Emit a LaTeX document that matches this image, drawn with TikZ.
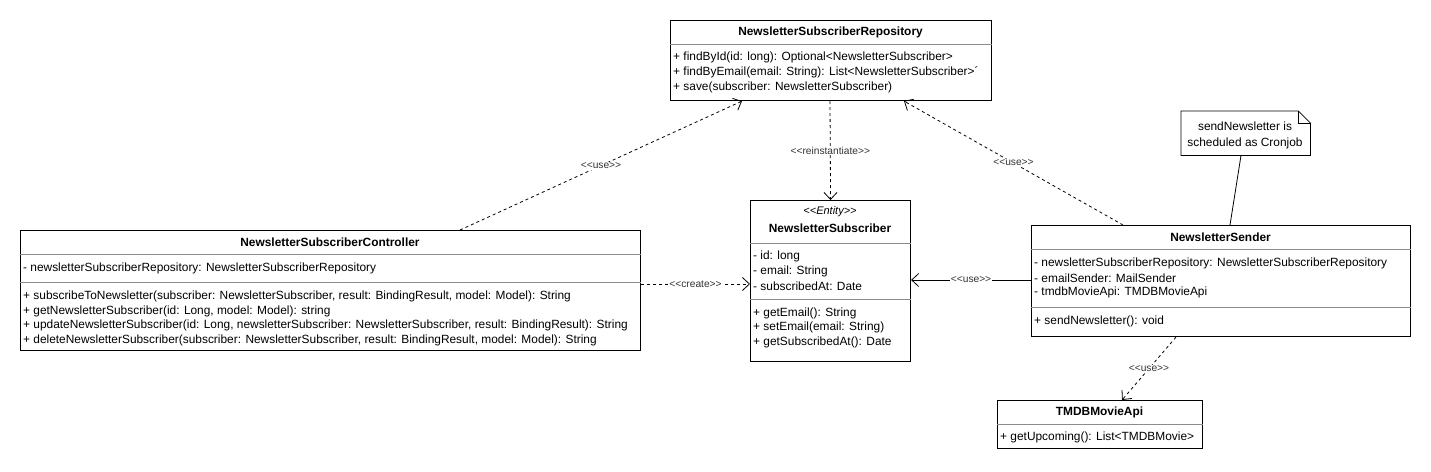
\documentclass[tikz,border=0pt]{standalone}
\usepackage{fontspec}
\setmainfont{Liberation Sans}
\usetikzlibrary{arrows.meta,calc}
\newcommand\stereo[1]{<\kern0pt<#1>\kern0pt>}
\begin{document}
\begin{tikzpicture}[x=1pt,y=-1pt,
  font=\fontsize{11.9}{13}\selectfont,
  cls/.style={draw, line width=1.1pt, inner sep=0pt, anchor=north west},
  div/.style={draw=black!45, line width=0.7pt},
  txt/.style={anchor=west, inner sep=0pt},
  ttl/.style={font=\fontsize{11.9}{13}\selectfont\bfseries, inner sep=0pt},
  dep/.style={dash pattern=on 3pt off 3pt, line width=0.8pt, -{Straight Barb[length=7pt,width=13pt]}},
  assoc/.style={line width=0.8pt, -{Straight Barb[length=7pt,width=13pt]}},
  lbl/.style={fill=white, font=\fontsize{10.2}{11}\selectfont, inner sep=1pt, text=black!80}]
\useasboundingbox (0,0) rectangle (1431,471);
\fill[white] (0,0) rectangle (1431,471);

% Repository
\node[cls, minimum width=321pt, minimum height=80pt] (repo) at (670,20) {};
\draw[div] ($(repo.north west)+(0,24)$) -- ($(repo.north east)+(0,24)$);
\node[ttl] (repoT) at (830.5,32) {NewsletterSubscriberRepository};
\node[txt] (repoM1) at (673,57) {+ findById(id: long): Optional<NewsletterSubscriber>};
\node[txt] (repoM2) at (673,72) {+ findByEmail(email: String): List<NewsletterSubscriber>´};
\node[txt] (repoM3) at (673,87) {+ save(subscriber: NewsletterSubscriber)};

% Controller
\node[cls, minimum width=620pt, minimum height=120pt] (ctrl) at (20,230) {};
\draw[div] ($(ctrl.north west)+(0,24)$) -- ($(ctrl.north east)+(0,24)$);
\draw[div] ($(ctrl.north west)+(0,52)$) -- ($(ctrl.north east)+(0,52)$);
\node[ttl] (ctrlT) at (330,242) {NewsletterSubscriberController};
\node[txt] (ctrlA1) at (23,268) {- newsletterSubscriberRepository: NewsletterSubscriberRepository};
\node[txt] (ctrlM1) at (23,296) {+ subscribeToNewsletter(subscriber: NewsletterSubscriber, result: BindingResult, model: Model): String};
\node[txt] (ctrlM2) at (23,311) {+ getNewsletterSubscriber(id: Long, model: Model): string};
\node[txt] (ctrlM3) at (23,325.5) {+ updateNewsletterSubscriber(id: Long, newsletterSubscriber: NewsletterSubscriber, result: BindingResult): String};
\node[txt] (ctrlM4) at (23,340) {+ deleteNewsletterSubscriber(subscriber: NewsletterSubscriber, result: BindingResult, model: Model): String};

% Subscriber
\node[cls, minimum width=160pt, minimum height=161pt] (sub) at (750,200) {};
\draw[div] ($(sub.north west)+(0,43)$) -- ($(sub.north east)+(0,43)$);
\draw[div] ($(sub.north west)+(0,99)$) -- ($(sub.north east)+(0,99)$);
\node[inner sep=0pt, font=\fontsize{11}{13}\selectfont\itshape] (subS) at (830,212) {\stereo{Entity}};
\node[ttl] (subT) at (830,228) {NewsletterSubscriber};
\node[txt] (subA1) at (753,256) {- id: long};
\node[txt] (subA2) at (753,271) {- email: String};
\node[txt] (subA3) at (753,286) {- subscribedAt: Date};
\node[txt] (subM1) at (753,313) {+ getEmail(): String};
\node[txt] (subM2) at (753,327) {+ setEmail(email: String)};
\node[txt] (subM3) at (753,342) {+ getSubscribedAt(): Date};

% Sender
\node[cls, minimum width=379pt, minimum height=111pt] (snd) at (1031,225) {};
\draw[div] ($(snd.north west)+(0,24)$) -- ($(snd.north east)+(0,24)$);
\draw[div] ($(snd.north west)+(0,82)$) -- ($(snd.north east)+(0,82)$);
\node[ttl] (sndT) at (1220.5,237) {NewsletterSender};
\node[txt] (sndA1) at (1034,263) {- newsletterSubscriberRepository: NewsletterSubscriberRepository};
\node[txt] (sndA2) at (1034,278) {- emailSender: MailSender};
\node[txt] (sndA3) at (1034,292) {- tmdbMovieApi: TMDBMovieApi};
\node[txt] (sndM1) at (1034,321) {+ sendNewsletter(): void};

% TMDB
\node[cls, minimum width=205pt, minimum height=48pt] (tmdb) at (997,400) {};
\draw[div] ($(tmdb.north west)+(0,24)$) -- ($(tmdb.north east)+(0,24)$);
\node[ttl] (tmdbT) at (1099.5,412) {TMDBMovieApi};
\node[txt] (tmdbM1) at (1000,437) {+ getUpcoming(): List<TMDBMovie>};

% Note
\node[inner sep=0pt, minimum width=129pt, minimum height=44pt, anchor=north west] (note) at (1181,111) {};
\draw[line width=0.8pt] (note.north west) -- ($(note.north east)+(-12,0)$) -- ($(note.north east)+(0,12)$) -- (note.south east) -- (note.south west) -- cycle;
\draw[line width=0.6pt] ($(note.north east)+(-12,0)$) -- ($(note.north east)+(-12,12)$) -- ($(note.north east)+(0,12)$);
\node[inner sep=0pt, align=center, font=\fontsize{11.9}{16}\selectfont] (noteT) at (1245,135) {sendNewsletter is\\scheduled as Cronjob};

% Connectors
\draw[dep] ($(ctrl.north west)+(440,0)$) -- node[lbl]{\stereo{use}} ($(repo.south west)+(72,0)$);
\draw[dep] ($(repo.south west)+(160,0)$) -- node[lbl]{\stereo{reinstantiate}} (sub.north);
\draw[dep] ($(snd.north west)+(92,0)$) -- node[lbl]{\stereo{use}} ($(repo.south west)+(234,0)$);
\draw[dep] ($(ctrl.north east)+(0,54)$) -- node[lbl]{\stereo{create}} ($(sub.north west)+(0,84)$);
\draw[assoc] ($(snd.north west)+(0,55)$) -- node[lbl]{\stereo{use}} ($(sub.north east)+(0,80)$);
\draw[dep] ($(snd.south west)+(145,0)$) -- node[lbl]{\stereo{use}} ($(tmdb.north west)+(125,0)$);
\draw[line width=0.8pt] ($(note.south west)+(60,0)$) -- ($(snd.north west)+(199,0)$);
\end{tikzpicture}
\end{document}
